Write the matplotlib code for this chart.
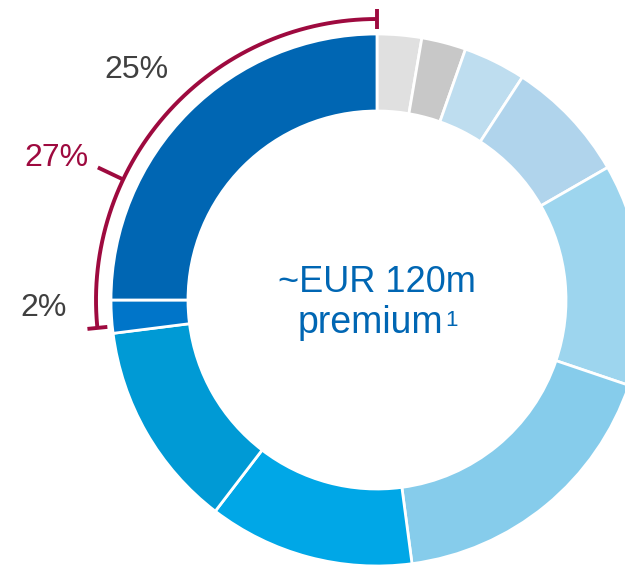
import numpy as np
import matplotlib
matplotlib.use("Agg")
import matplotlib.pyplot as plt

# premium split, clockwise from 12 o'clock (percent)
shares = [2.7, 2.7, 3.8, 7.5, 13.5, 17.7, 12.5, 12.6, 2.0, 25.0]
colors = ["#E0E0E0", "#C8C8C8", "#BEDDEF", "#B0D4EC", "#9DD5EE",
          "#86CCEB", "#00A7E7", "#009AD5", "#0075C9", "#0066B3"]
labels = ["", "", "", "", "", "", "", "", "2%", "25%"]
group_label = "27%"
title_line = "~EUR 120m"
sub_line = "premium"
footnote = "1"

plt.rcParams["font.family"] = ["Liberation Sans", "DejaVu Sans"]

W, H = 625, 568
fig = plt.figure(figsize=(W / 100, H / 100), dpi=100)
ax = fig.add_axes([0, 0, 1, 1])

cx, cy = 377, H - 300
R, r = 266, 189

ax.pie(shares, colors=colors, radius=R, center=(cx, cy), startangle=90,
       counterclock=False, wedgeprops=dict(width=R - r, edgecolor="white", linewidth=2))

ax.set_xlim(0, W)
ax.set_ylim(0, H)
ax.set_aspect("equal")
ax.axis("off")

# bracket over the last two slices
crimson = "#9E0A3F"
Ra = 281
start = 90
end = 90 + 360 * sum(shares[-2:]) / sum(shares) - 1.5
t = np.radians(np.linspace(start, end, 200))
ax.plot(cx + Ra * np.cos(t), cy + Ra * np.sin(t), color=crimson, lw=2.8, solid_capstyle="butt")
for a in (start, end):
    a = np.radians(a)
    ax.plot([cx + (Ra - 10) * np.cos(a), cx + (Ra + 10) * np.cos(a)],
            [cy + (Ra - 10) * np.sin(a), cy + (Ra + 10) * np.sin(a)],
            color=crimson, lw=2.8, solid_capstyle="butt")
a = np.radians(154.6)
ax.plot([cx + Ra * np.cos(a), cx + (Ra + 28) * np.cos(a)],
        [cy + Ra * np.sin(a), cy + (Ra + 28) * np.sin(a)],
        color=crimson, lw=2.8, solid_capstyle="butt")

ax.text(56, H - 158, group_label, color=crimson, fontsize=23, ha="center", va="center")
ax.text(136, H - 70, labels[-1], color="#404040", fontsize=23, ha="center", va="center")
ax.text(44, H - 308, labels[-2], color="#404040", fontsize=23, ha="center", va="center")

blue = "#0066B3"
ax.text(377, H - 282, title_line, color=blue, fontsize=26, ha="center", va="center")
ax.text(370, H - 323, sub_line, color=blue, fontsize=27, ha="center", va="center")
ax.text(445, H - 310, footnote, color=blue, fontsize=16, ha="left", va="top")

fig.savefig("out.png", dpi=100)
